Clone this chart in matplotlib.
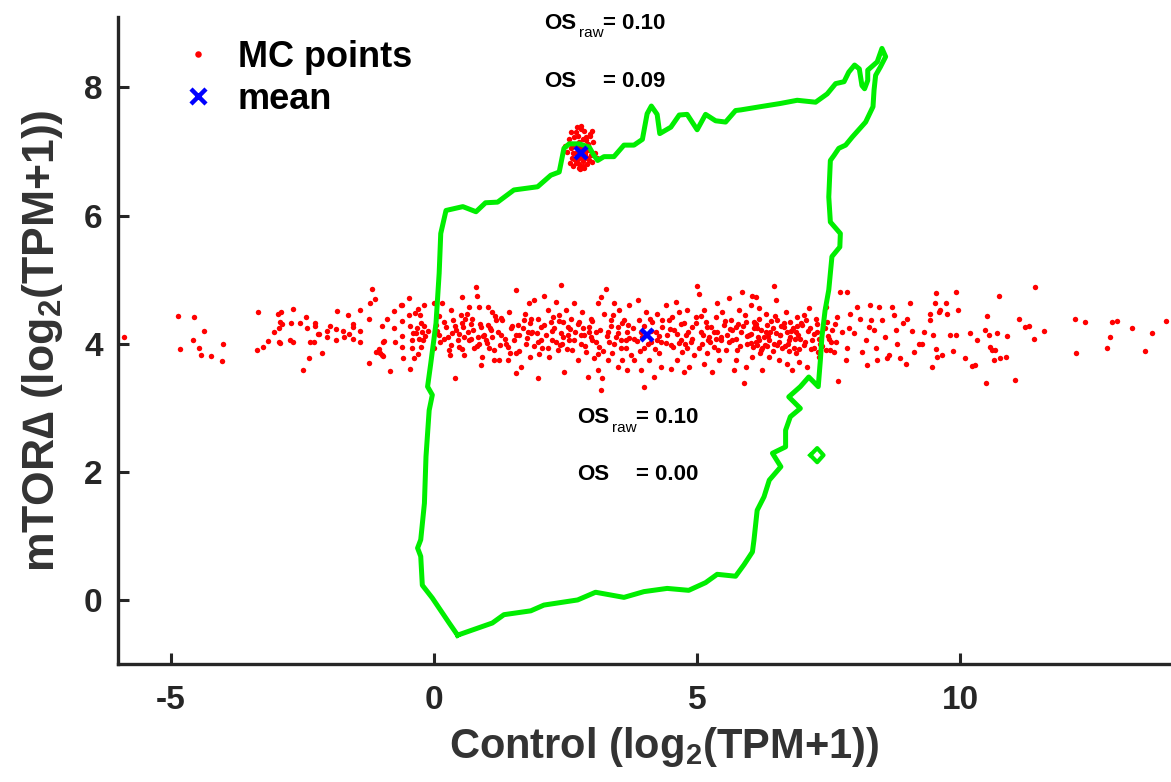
import matplotlib
matplotlib.use("Agg")
import matplotlib.pyplot as plt
import numpy as np

plt.rcParams['font.family'] = ['Liberation Sans', 'DejaVu Sans']
plt.rcParams['font.weight'] = 'bold'
plt.rcParams['mathtext.fontset'] = 'custom'
plt.rcParams['mathtext.rm'] = 'Liberation Sans:bold'
plt.rcParams['mathtext.bf'] = 'Liberation Sans:bold'
plt.rcParams['mathtext.it'] = 'Liberation Sans:bold'
plt.rcParams['axes.unicode_minus'] = False

# ---------------- data ----------------
# MC points: broad band (left part)
band_left = [
    (-5.88, 4.11), (-4.86, 4.43), (-4.83, 3.92), (-4.55, 4.41), (-4.57, 4.06), (-4.36, 4.20),
    (-4.47, 3.94), (-4.43, 3.82), (-4.24, 3.81), (-4.01, 4.00), (-4.03, 3.73), (-3.35, 4.49),
    (-3.36, 3.90), (-3.25, 3.95), (-3.16, 4.04), (-3.04, 4.18), (-2.95, 4.24), (-2.97, 4.46),
    (-2.90, 4.49), (-2.92, 4.34), (-2.88, 4.31), (-2.94, 4.03), (-2.92, 4.01), (-2.68, 4.54),
    (-2.71, 4.32), (-2.74, 4.06), (-2.68, 4.02), (-2.54, 4.32), (-2.42, 4.42), (-2.41, 4.24),
    (-2.35, 4.02), (-2.37, 3.77), (-2.49, 3.59), (-2.26, 4.32), (-2.26, 4.28), (-2.27, 4.03),
    (-2.21, 4.15), (-2.19, 4.15), (-2.13, 3.86), (-2.03, 4.10), (-2.03, 4.20), (-1.97, 4.27),
    (-1.84, 4.51), (-1.85, 4.23), (-1.85, 4.06), (-1.72, 4.20), (-1.71, 4.11), (-1.63, 4.45),
    (-1.62, 4.15), (-1.54, 4.31), (-1.53, 4.26), (-1.54, 4.08), (-1.40, 4.52), (-1.40, 4.20),
    (-1.40, 4.02), (-1.23, 4.38), (-1.21, 4.64), (-1.18, 4.85), (-1.11, 4.70), (-1.24, 3.70),
    (-1.10, 3.87), (-1.05, 3.92), (-1.02, 3.86), (-0.99, 3.83), (-0.97, 3.81), (-0.96, 4.02),
    (-0.94, 4.04), (-0.98, 4.27), (-0.90, 4.38), (-0.83, 3.58), (-0.75, 4.51), (-0.75, 4.24),
    (-0.73, 4.02), (-0.63, 4.61), (-0.60, 4.61), (-0.60, 4.36), (-0.60, 4.12), (-0.60, 3.95),
    (-0.58, 3.78), (-0.48, 4.72), (-0.48, 4.45), (-0.45, 4.28), (-0.45, 3.60), (-0.41, 4.06),
    (-0.41, 3.93), (-0.40, 4.16), (-0.38, 3.78), (-0.35, 4.48), (-0.34, 4.16), (-0.32, 4.24),
    (-0.30, 4.54), (-0.30, 3.84), (-0.28, 4.08), (-0.27, 4.45), (-0.25, 4.32), (-0.25, 3.95),
    (-0.22, 4.18), (-0.21, 4.06), (-0.19, 4.60), (-0.18, 4.27), (-0.16, 4.12), (-0.12, 4.20),
]

# MC points: broad band (centre part)
band_mid = [
    (0.01, 4.63), (0.16, 4.63), (0.04, 4.29), (0.10, 4.13), (0.01, 3.93), (0.20, 4.08), (0.23, 4.26),
    (0.32, 4.52), (0.37, 4.37), (0.42, 4.21), (0.45, 4.06), (0.51, 4.45), (0.54, 4.73), (0.54, 4.32),
    (0.40, 3.46), (0.29, 3.90), (0.48, 3.95), (0.35, 4.16), (0.58, 4.11), (0.58, 3.82), (0.56, 4.26),
    (0.80, 4.89), (0.82, 4.74), (0.64, 4.19), (0.70, 4.08), (0.73, 4.39), (0.77, 3.93), (0.83, 4.11),
    (0.89, 4.26), (0.96, 4.13), (0.92, 3.80), (0.89, 3.67), (0.99, 4.06), (1.02, 4.29), (1.05, 3.93),
    (1.11, 4.50), (1.11, 4.11), (1.14, 3.74), (1.18, 4.37), (1.08, 4.21), (0.67, 4.58), (0.86, 4.58),
    (1.02, 4.58), (1.56, 4.84), (1.27, 4.13), (1.30, 4.37), (1.37, 4.00), (1.43, 4.50), (1.46, 4.24),
    (1.52, 4.06), (1.56, 3.85), (1.59, 4.29), (1.62, 4.13), (1.65, 3.64), (1.71, 4.37), (1.75, 4.00),
    (1.78, 4.19), (1.81, 4.63), (1.84, 4.39), (1.82, 3.80), (1.24, 3.74), (1.40, 3.74), (1.56, 3.54),
    (1.97, 3.46), (1.87, 4.19), (1.90, 4.68), (1.97, 4.39), (1.97, 4.03), (2.03, 4.26), (2.06, 3.93),
    (2.09, 4.74), (2.13, 4.13), (2.16, 4.52), (2.19, 3.80), (2.22, 4.34), (2.25, 4.06), (2.28, 4.24),
    (2.31, 4.65), (2.35, 3.90), (2.38, 4.45), (2.41, 4.91), (2.41, 4.16), (2.44, 4.00), (2.46, 4.34),
    (2.47, 3.56), (2.50, 4.52), (2.54, 4.26), (2.57, 4.06), (2.60, 4.39), (2.63, 3.90), (2.66, 4.63),
    (2.68, 4.19), (2.73, 3.74), (2.76, 4.34), (2.79, 4.00), (2.82, 4.50), (2.85, 4.13), (2.88, 3.87),
    (2.92, 3.48), (2.95, 4.26), (2.98, 4.39), (3.01, 4.06), (3.04, 3.77), (3.07, 4.19), (3.11, 4.63),
    (3.14, 3.95), (3.11, 3.59), (3.17, 3.28), (3.20, 3.46), (3.17, 4.73), (3.26, 4.85), (3.23, 4.47),
    (3.30, 4.19), (3.33, 4.03), (3.36, 4.37), (3.39, 3.85), (3.42, 4.63), (3.45, 4.11), (3.49, 4.26),
    (3.52, 4.52), (3.55, 3.93), (3.58, 3.74), (3.61, 4.37), (3.64, 4.06), (3.67, 4.19), (3.71, 4.60),
    (3.74, 3.82), (3.49, 3.64), (3.67, 3.59), (3.30, 3.74), (3.80, 4.08), (3.87, 4.68), (3.90, 4.37),
    (3.93, 4.19), (3.99, 3.93), (4.02, 4.50), (4.09, 3.74), (4.12, 4.03), (4.15, 4.34), (4.18, 3.48),
    (4.21, 4.19), (4.24, 4.47), (4.28, 3.85), (4.31, 4.03), (4.34, 4.26), (3.93, 3.59), (3.99, 3.33),
    (3.80, 3.74), (4.40, 4.60), (4.43, 4.13), (4.47, 4.37), (4.50, 3.98), (4.56, 4.21), (4.59, 4.65),
    (4.62, 3.74), (4.66, 4.50), (4.69, 4.06), (4.72, 3.87), (4.75, 4.32), (4.78, 4.13), (4.81, 4.52),
    (4.85, 3.64), (4.88, 4.03), (4.91, 4.26), (4.94, 3.82), (4.97, 4.42), (5.00, 4.90), (5.03, 4.78),
    (4.31, 3.64), (4.50, 3.61), (4.75, 3.56), (5.07, 4.19), (5.10, 4.00), (5.13, 4.52), (5.16, 4.34),
    (5.19, 3.85), (5.22, 4.11), (5.26, 4.26), (5.29, 3.56), (5.32, 3.95), (5.35, 4.42), (5.38, 4.19),
    (5.41, 3.74), (5.45, 4.06), (5.48, 4.50), (5.51, 4.29), (5.54, 3.90), (5.57, 4.13), (5.60, 4.71),
    (5.64, 4.37), (5.38, 4.63), (5.13, 3.69), (5.67, 4.06), (5.70, 3.59), (5.73, 4.26), (5.76, 3.90),
    (5.79, 4.52), (5.83, 4.19), (5.86, 4.81), (5.89, 3.38), (5.92, 4.34), (5.95, 4.00), (5.98, 4.13),
    (6.02, 4.60), (6.05, 3.80), (6.08, 4.24), (6.11, 4.73), (6.14, 3.98), (6.17, 4.39), (5.73, 3.74),
    (5.92, 3.64),
]

# MC points: dense core of the band
band_core = [
    (0.05, 4.20), (0.12, 4.02), (0.19, 4.34), (0.26, 4.10), (0.33, 3.98), (0.40, 4.27), (0.47, 4.15),
    (0.53, 3.92), (0.60, 4.38), (0.67, 4.05), (0.74, 4.22), (0.81, 3.96), (0.88, 4.31), (0.94, 4.12),
    (1.00, 4.01), (1.07, 4.25), (1.14, 3.90), (1.21, 4.18), (1.28, 4.40), (1.35, 4.08), (1.41, 3.95),
    (1.48, 4.28), (1.55, 4.14), (1.62, 3.88), (1.69, 4.24), (1.76, 4.09), (1.83, 4.33), (1.90, 3.97),
    (1.96, 4.16), (2.03, 4.06), (2.10, 4.29), (2.17, 3.93), (2.24, 4.20), (2.31, 4.03), (2.38, 4.36),
    (2.45, 4.11), (2.52, 3.91), (2.59, 4.23), (2.66, 4.05), (2.73, 4.30), (2.80, 4.13), (2.87, 3.96),
    (2.94, 4.19), (3.01, 4.35), (3.08, 4.02), (3.15, 4.21), (3.22, 3.89), (3.29, 4.12), (3.36, 4.27),
    (3.43, 4.00), (3.50, 4.17), (3.57, 4.32), (3.64, 3.94), (3.71, 4.09), (3.78, 4.24), (3.85, 4.04),
    (3.92, 3.88), (3.99, 4.28), (4.06, 4.00), (4.13, 4.20), (4.20, 3.92), (4.27, 4.12), (4.34, 4.37),
    (4.41, 4.01), (4.48, 4.23), (4.55, 3.95), (4.62, 4.15), (4.69, 4.30), (4.76, 3.99), (4.83, 4.18),
    (4.90, 4.07), (4.97, 4.33), (5.04, 3.94), (5.11, 4.14), (5.18, 4.26), (5.25, 4.03), (5.32, 4.19),
    (5.39, 3.90), (5.46, 4.11), (5.53, 4.35), (5.60, 4.02), (5.67, 4.21), (5.74, 4.08), (5.81, 3.96),
    (5.88, 4.27), (5.95, 4.12), (6.02, 4.01), (6.09, 4.31), (6.16, 4.10), (6.23, 3.93), (6.30, 4.18),
    (6.37, 4.05), (6.44, 4.25), (6.51, 3.98), (6.58, 4.14), (6.65, 4.33), (6.72, 4.00), (6.79, 4.20),
    (6.86, 4.07), (6.93, 3.92), (6.02, 4.15), (6.07, 3.95), (6.12, 4.30), (6.18, 4.05), (6.22, 4.22),
    (6.28, 3.98), (6.34, 4.12), (6.40, 4.35), (6.45, 3.88), (6.50, 4.16), (6.56, 4.02), (6.60, 4.28),
    (6.66, 3.96), (6.70, 4.18), (6.76, 4.10), (6.82, 4.25), (6.88, 3.85), (6.92, 4.14), (6.98, 4.32),
    (7.04, 4.02), (7.10, 4.20), (7.16, 3.92), (7.21, 4.15), (7.27, 4.30), (7.32, 4.08), (7.38, 3.97),
    (7.42, 4.25), (7.48, 4.12), (7.55, 4.02), (7.62, 4.30),
    (0.09, 4.44), (0.30, 3.83), (0.62, 4.47), (0.85, 4.00), (1.16, 4.43), (1.44, 3.86), (1.73, 4.46),
    (2.00, 3.84), (2.27, 4.42), (2.55, 4.14), (2.84, 4.24), (3.12, 3.84), (3.40, 4.45), (3.68, 4.29),
    (3.96, 4.11), (4.23, 4.05), (4.52, 4.42), (4.80, 3.93), (5.08, 4.44), (5.36, 4.08), (5.62, 4.23),
    (5.90, 4.45), (6.19, 3.86), (6.47, 4.43), (6.75, 3.88), (7.02, 4.45), (7.30, 3.87), (0.70, 4.30),
    (1.25, 3.98), (1.85, 4.16), (2.40, 3.98), (2.98, 4.10), (3.55, 4.05), (4.10, 4.38), (4.65, 4.01),
    (5.20, 4.06), (5.78, 4.30), (6.33, 3.97), (6.90, 4.27), (7.45, 3.90),
]

# MC points: broad band (right part)
band_right = [
    (6.05, 4.74), (6.08, 4.34), (6.11, 4.03), (6.14, 4.24), (6.17, 4.55), (6.21, 3.90), (6.24, 3.59),
    (6.27, 4.11), (6.30, 4.47), (6.33, 4.29), (6.36, 3.80), (6.39, 4.19), (6.46, 4.90), (6.46, 4.00),
    (6.49, 4.68), (6.52, 4.37), (6.55, 3.74), (6.58, 4.13), (6.62, 3.93), (6.65, 4.26), (6.68, 4.50),
    (6.71, 3.69), (6.74, 4.06), (6.77, 4.34), (6.81, 3.59), (6.84, 3.93), (6.87, 4.19), (6.90, 4.42),
    (6.93, 3.72), (6.96, 4.08), (7.00, 4.29), (7.03, 3.98), (7.06, 4.37), (7.09, 3.64), (7.12, 4.55),
    (7.15, 4.24), (7.19, 4.06), (7.22, 3.93), (7.25, 4.39), (7.28, 4.19), (7.31, 3.80), (7.34, 4.00),
    (7.44, 4.58), (7.47, 4.34), (7.50, 4.08), (7.53, 3.90), (7.57, 4.21), (7.60, 3.87), (7.63, 4.03),
    (7.66, 4.42), (7.67, 3.41), (7.71, 4.81), (7.75, 4.19), (7.82, 3.74), (7.84, 4.81), (7.85, 3.93),
    (7.88, 4.24), (7.91, 4.47), (7.97, 4.16), (8.04, 4.58), (8.10, 4.39), (8.13, 3.87), (8.20, 4.06),
    (8.22, 3.67), (8.26, 4.26), (8.29, 4.60), (8.30, 4.37), (8.35, 4.21), (8.39, 3.93), (8.41, 3.74),
    (8.45, 4.58), (8.52, 4.37), (8.56, 4.11), (8.60, 3.77), (8.64, 3.82), (8.70, 4.58), (8.73, 4.45),
    (8.78, 4.22), (8.80, 4.00), (8.86, 3.77), (8.91, 4.33), (8.96, 3.69), (8.99, 4.39), (9.04, 4.63),
    (9.08, 4.20), (9.11, 3.87), (9.21, 4.00), (9.27, 4.00), (9.30, 4.19), (9.43, 4.47), (9.43, 4.37),
    (9.46, 3.64), (9.48, 4.13), (9.51, 4.63), (9.53, 4.79), (9.54, 3.91), (9.56, 3.80), (9.59, 4.50),
    (9.62, 4.52), (9.65, 3.82), (9.72, 4.63), (9.75, 4.47), (9.81, 4.13), (9.86, 3.89), (9.91, 4.81),
    (9.91, 4.13), (9.95, 4.53), (10.09, 3.77), (10.19, 4.17), (10.22, 3.65), (10.28, 3.67), (10.32, 4.06),
    (10.47, 4.21), (10.50, 4.43), (10.49, 3.38), (10.54, 4.13), (10.57, 3.95), (10.60, 3.90), (10.63, 3.74),
    (10.66, 3.90), (10.70, 4.16), (10.73, 4.74), (10.76, 3.77), (10.86, 3.80), (10.89, 4.12), (11.04, 3.43),
    (11.11, 4.39), (11.23, 4.26), (11.30, 4.27), (11.39, 4.07), (11.42, 4.89), (11.58, 4.20), (12.18, 4.38),
    (12.20, 3.85), (12.37, 4.34), (12.78, 3.94), (12.85, 4.11), (12.88, 4.34), (12.97, 4.36), (13.26, 4.25),
    (13.51, 3.89), (13.63, 4.17), (13.91, 4.35),
]

# MC points: tight cluster (second gene)
cluster_x = [2.79, 2.72, 2.86, 2.68, 2.90, 2.76, 2.83, 2.64, 2.94, 2.70, 2.88, 2.60, 2.98, 2.74, 2.84,
             2.66, 2.92, 2.78, 2.81, 2.57, 3.01, 2.69, 2.89, 2.75, 2.85, 2.62, 2.96, 2.73, 2.87, 2.52,
             3.06, 2.80, 2.77, 2.71, 2.91, 2.67, 2.93, 2.82, 2.58, 3.03, 2.74, 2.86, 2.63, 2.95, 2.79,
             2.76, 2.84, 2.70, 2.88, 2.49, 3.09, 2.81, 2.65, 2.97, 2.78, 2.72, 2.87, 2.60, 3.00, 2.83]
cluster_y = [7.00, 6.95, 7.05, 7.10, 6.90, 7.15, 6.85, 6.98, 7.02, 6.82, 7.18, 7.05, 6.95, 7.25, 6.78,
             6.88, 7.12, 6.92, 7.08, 7.20, 6.84, 7.30, 7.22, 6.75, 6.74, 6.90, 7.28, 7.03, 6.97, 7.00,
             6.98, 7.35, 6.72, 7.12, 6.80, 7.22, 7.10, 6.92, 6.82, 7.15, 6.88, 7.32, 7.12, 6.86, 7.40,
             6.80, 7.20, 6.98, 7.02, 7.08, 6.90, 6.76, 6.78, 7.24, 7.06, 7.38, 6.94, 7.30, 7.32, 7.06]

# means
mean_x = [4.05, 2.80]
mean_y = [4.13, 6.98]

# green density contour (closed)
contour_x = [0.45, 0.29, -0.03, -0.22, -0.25, -0.31, -0.25, -0.18, -0.15, -0.09, -0.03, -0.12, -0.06, 0.04,
             0.10, 0.13, 0.23, 0.55, 0.80, 0.98, 1.21, 1.52, 1.97, 2.22, 2.38, 2.47, 2.57, 2.76, 2.95,
             3.04, 3.11, 3.23, 3.42, 3.61, 3.80, 3.96, 4.05, 4.13, 4.24, 4.29, 4.50, 4.66, 4.81, 5.00,
             5.16, 5.35, 5.54, 5.73, 5.83, 6.20, 6.58, 6.90, 7.25, 7.47, 7.63, 7.79, 7.88, 7.99, 8.08,
             8.13, 8.18, 8.24, 8.24, 8.42, 8.51, 8.58, 8.48, 8.39, 8.36, 8.34, 8.20, 7.95, 7.82, 7.69,
             7.60, 7.53, 7.50, 7.53, 7.72, 7.71, 7.56, 7.50, 7.43, 7.37, 7.34, 7.30, 7.12, 6.96, 6.74,
             6.96, 6.77, 6.68, 6.68, 6.43, 6.59, 6.37, 6.27, 6.14, 6.08, 6.05, 5.89, 5.73, 5.38, 5.16,
             4.84, 4.43, 3.99, 3.61, 3.07, 2.73, 2.09, 1.84, 1.33, 1.11, 0.45]
contour_y = [-0.55, -0.36, 0.03, 0.23, 0.68, 0.81, 0.94, 1.51, 2.24, 2.96, 3.20, 3.33, 3.69, 4.32,
             5.10, 5.72, 6.08, 6.14, 6.06, 6.20, 6.21, 6.40, 6.45, 6.63, 6.68, 7.05, 7.12, 7.12, 7.07,
             6.94, 6.86, 6.92, 6.92, 7.10, 7.10, 7.19, 7.59, 7.71, 7.58, 7.28, 7.38, 7.57, 7.58, 7.34,
             7.58, 7.48, 7.46, 7.64, 7.65, 7.70, 7.75, 7.80, 7.77, 7.90, 8.06, 8.09, 8.24, 8.35, 8.29,
             8.03, 7.98, 8.11, 8.27, 8.40, 8.61, 8.48, 8.32, 8.19, 7.96, 7.70, 7.46, 7.23, 7.10, 7.05,
             6.94, 6.86, 6.29, 5.90, 5.72, 5.51, 5.36, 4.84, 4.52, 4.11, 3.74, 3.33, 3.48, 3.33, 3.17,
             2.99, 2.86, 2.65, 2.39, 2.29, 2.08, 1.87, 1.61, 1.40, 0.94, 0.75, 0.55, 0.37, 0.40, 0.27,
             0.15, 0.18, 0.13, 0.04, 0.12, 0.00, -0.08, -0.17, -0.23, -0.36, -0.55]

# small isolated contour island
island_x = [7.15, 7.28, 7.40, 7.28, 7.15]
island_y = [2.26, 2.37, 2.26, 2.15, 2.26]

# annotation texts
annot_top = ("0.10", "0.09")
annot_mid = ("0.10", "0.00")

# ---------------- plot ----------------
fig = plt.figure(figsize=(11.71, 7.82), dpi=100)
ax = fig.add_axes([118 / 1171, 1 - 664 / 782, (1171 - 118) / 1171, (664 - 17) / 782])

bx = [p[0] for p in band_left + band_mid + band_core + band_right]
by = [p[1] for p in band_left + band_mid + band_core + band_right]
all_x = bx + cluster_x
all_y = by + cluster_y

ax.plot(all_x, all_y, linestyle='none', marker='o', color='#ff0000', markersize=3.9,
        markeredgewidth=0, label='MC points', zorder=2)
ax.plot(contour_x, contour_y, color='#00ee00', linewidth=3.6, solid_joinstyle='round', zorder=3)
ax.plot(island_x, island_y, color='#00ee00', linewidth=3.0, zorder=3)
ax.plot(mean_x, mean_y, linestyle='none', marker='x', color='#0000ff', markersize=9,
        markeredgewidth=3.2, label='mean', zorder=4)

ax.set_xlim(-6, 14)
ax.set_ylim(-1, 9.1)
ax.set_xticks([-5, 0, 5, 10])
ax.set_yticks([0, 2, 4, 6, 8])

for s in ['top', 'right']:
    ax.spines[s].set_visible(False)
for s in ['left', 'bottom']:
    ax.spines[s].set_linewidth(2.4)
    ax.spines[s].set_color('#262626')
ax.tick_params(direction='in', length=8, width=2.2, labelsize=24, colors='#262626',
               labelcolor='#262626')
ax.tick_params(axis='x', pad=15)
ax.tick_params(axis='y', pad=11)
for lab in ax.get_xticklabels() + ax.get_yticklabels():
    lab.set_fontweight('bold')

ax.set_xlabel('Control (log$_2$(TPM+1))', fontsize=30, fontweight='bold', color='#333333')
ax.set_ylabel('mTOR\u2206 (log$_2$(TPM+1))', fontsize=32, fontweight='bold', color='#333333')
ax.xaxis.set_label_coords(0.519, -0.095)
ax.yaxis.set_label_coords(-0.05, 0.50)

leg = ax.legend(loc='upper left', bbox_to_anchor=(0.028, 1.015), frameon=False, fontsize=26,
                handlelength=1.0, handletextpad=0.6, labelspacing=0.2, markerscale=1.2)

# annotations
def os_pair(x_os, x_eq, y_raw, y_os, vals):
    ax.text(x_os, y_raw, 'OS', fontsize=16, fontweight='bold', ha='left', va='baseline', clip_on=False)
    ax.text(x_os + 0.66, y_raw - 0.14, 'raw', fontsize=11, fontweight='normal', ha='left',
            va='baseline', clip_on=False)
    ax.text(x_eq, y_raw, '= ' + vals[0], fontsize=16, fontweight='bold', ha='left', va='baseline', clip_on=False)
    ax.text(x_os, y_os, 'OS', fontsize=16, fontweight='bold', ha='left', va='baseline', clip_on=False)
    ax.text(x_eq, y_os, '= ' + vals[1], fontsize=16, fontweight='bold', ha='left', va='baseline', clip_on=False)

os_pair(2.10, 3.22, 8.92, 8.00, annot_top)
os_pair(2.72, 3.84, 2.76, 1.87, annot_mid)

fig.savefig('out.png', dpi=100)
